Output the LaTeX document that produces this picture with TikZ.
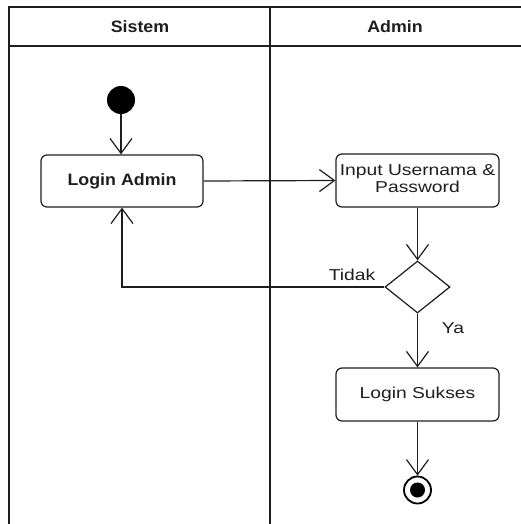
\documentclass[tikz,border=0pt]{standalone}
\usepackage{fontspec}
\usepackage{graphicx}
\setmainfont{Liberation Sans}
\usetikzlibrary{shapes.geometric,arrows.meta}
\definecolor{ink}{HTML}{1E1E1E}
\newcommand{\nt}[1]{\scalebox{1.22}[1]{\fontsize{15.8}{16.5}\selectfont #1}}
\newcommand{\bt}[1]{\scalebox{1.08}[1]{\fontsize{16.5}{18}\selectfont\bfseries #1}}
\tikzset{
  lane/.style={draw=ink, line width=1.6pt},
  actbox/.style={draw=ink, line width=1.2pt, rounded corners=6pt, minimum width=162pt, minimum height=52pt, inner sep=0pt, text=ink},
  decbox/.style={draw=ink, line width=1.2pt, diamond, minimum width=65pt, minimum height=52pt, inner sep=0pt},
  startdot/.style={circle, fill=black, minimum size=28pt, inner sep=0pt},
  enddot/.style={circle, draw=black, line width=1.8pt, minimum size=27pt, inner sep=0pt},
  flow/.style={draw=ink, line width=1.2pt, -{Straight Barb[length=15pt,width=22pt,line width=1.2pt]}},
  lbl/.style={text=ink, inner sep=0pt}
}
\begin{document}
\begin{tikzpicture}[x=1pt,y=-1pt]
\useasboundingbox (0,0) rectangle (521,524);
% swimlane frame
\coordinate (tl) at (9,7);
\coordinate (bl) at (9,524);
\coordinate (tr) at (521,7);
\coordinate (hl) at (9,46);
\coordinate (hr) at (521,46);
\coordinate (dt) at (270,7);
\coordinate (db) at (270,524);
\draw[lane] (bl) -- (tl) -- (tr);
\draw[lane] (hl) -- (hr);
\draw[lane] (dt) -- (db);
\node[lbl] (hsis) at (140,27) {\bt{Sistem}};
\node[lbl] (hadm) at (395,27) {\bt{Admin}};
% nodes
\node[startdot] (start) at (121,100) {};
\node[actbox] (login) at (122,181) {\bt{Login Admin}};
\node[actbox, minimum width=163pt, minimum height=53pt] (input) at (417.5,180.5) {\nt{\begin{tabular}{@{}c@{}}Input Usernama \&\\Password\end{tabular}}};
\node[decbox] (dec) at (417.5,287) {};
\node[actbox, minimum width=163pt, minimum height=53pt] (sukses) at (417.5,394.5) {\nt{Login Sukses}};
\node[enddot] (end) at (417.5,490) {};
\node[circle, fill=black, minimum size=15pt, inner sep=0pt] (endin) at (end.center) {};
% connectors
\draw[flow] (start) -- (start |- login.north);
\draw[flow] (login.east) -- (input.west);
\draw[flow] (input.south) -- (dec.north);
\draw[flow] (dec.west) -- (login.south |- dec.west) -- (login.south);
\draw[flow] (dec.south) -- (sukses.north);
\draw[flow] (sukses.south) -- (end.north);
\node[lbl] (tidak) at (352,275) {\nt{Tidak}};
\node[lbl] (ya) at (453,328) {\nt{Ya}};
\end{tikzpicture}
\end{document}
